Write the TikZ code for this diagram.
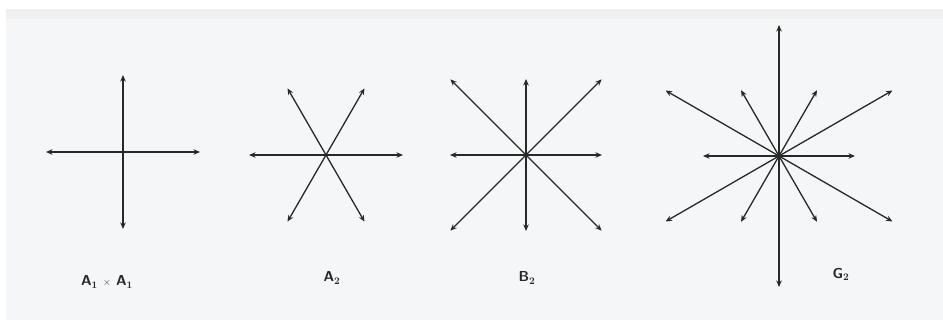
\documentclass[tikz,border=0pt]{standalone}
\usetikzlibrary{arrows.meta}
\definecolor{paper}{RGB}{245,246,247}
\definecolor{band}{RGB}{240,241,238}
\definecolor{ink}{RGB}{40,40,40}
\tikzset{
  root/.style={draw=ink, line width=1.3pt, -{Stealth[length=6.5pt,width=5.5pt]}},
  lab/.style={font=\sffamily\bfseries\Large, text=ink, inner sep=1pt}
}
\begin{document}
\begin{tikzpicture}[x=1pt,y=-1pt]
\useasboundingbox (0,0) rectangle (943,320);
\fill[white] (0,0) rectangle (943,320);
\fill[paper] (6,9) rectangle (943,320);
\fill[band] (6,9) rectangle (943,19);
% centres
\coordinate (cA) at (123,152);
\coordinate (cB) at (326,155);
\coordinate (cC) at (526,155);
\coordinate (cD) at (779,156);
% A1 x A1
\foreach \a in {0,90,180,270}{
  \path (cA) ++(\a:77) coordinate (a\a);
  \draw[root] (cA) -- (a\a);
}
% A2
\foreach \a in {0,60,120,180,240,300}{
  \path (cB) ++(\a:77) coordinate (b\a);
  \draw[root] (cB) -- (b\a);
}
% B2
\foreach \a in {0,90,180,270}{
  \path (cC) ++(\a:76) coordinate (c\a);
  \draw[root] (cC) -- (c\a);
}
\foreach \a in {45,135,225,315}{
  \path (cC) ++(\a:107) coordinate (c\a);
  \draw[root] (cC) -- (c\a);
}
% G2
\foreach \a in {0,60,120,180,240,300}{
  \path (cD) ++(\a:76) coordinate (d\a);
  \draw[root] (cD) -- (d\a);
}
\foreach \a in {30,90,150,210,270,330}{
  \path (cD) ++(\a:131) coordinate (d\a);
  \draw[root] (cD) -- (d\a);
}
\fill[ink] (cA) circle (1.3pt);
\fill[ink] (cB) circle (1.3pt);
\fill[ink] (cC) circle (1.8pt);
\fill[ink] (cD) circle (1.8pt);
% labels
\node[lab] (lA) at (107,282) {A$_{\mathbf{1}}$ {\normalsize$\times$} A$_{\mathbf{1}}$};
\node[lab] (lB) at (332,278) {A$_{\mathbf{2}}$};
\node[lab] (lC) at (527,278) {B$_{\mathbf{2}}$};
\node[lab] (lD) at (841,274) {G$_{\mathbf{2}}$};
\end{tikzpicture}
\end{document}
